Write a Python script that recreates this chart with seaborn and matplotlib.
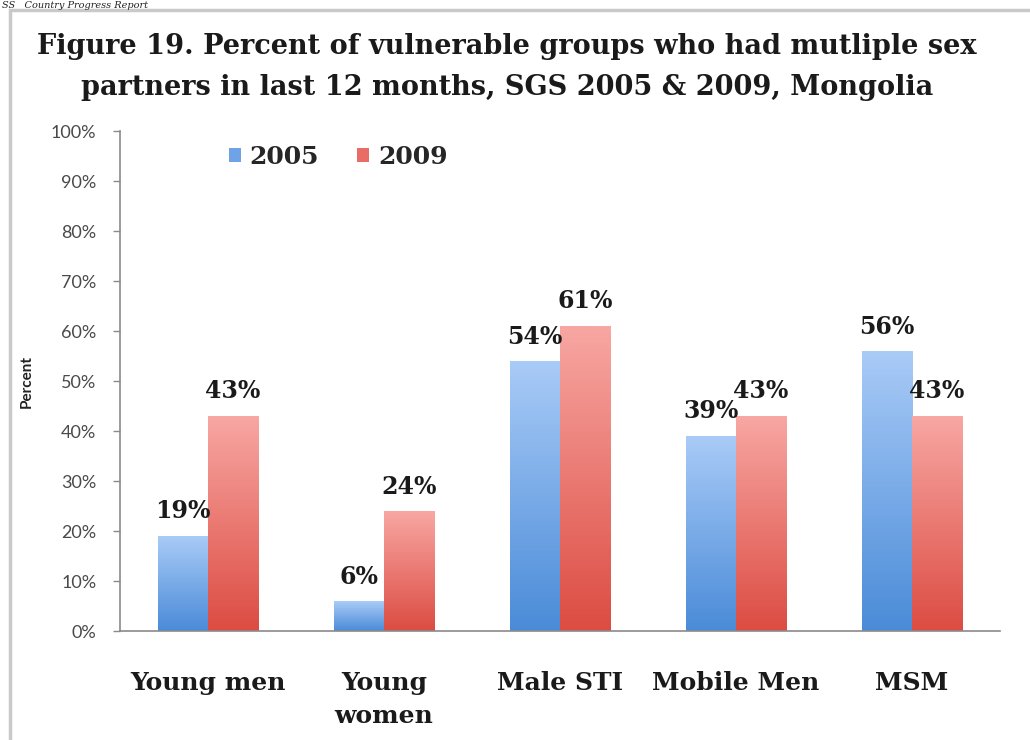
import numpy as np
import pandas as pd
import matplotlib
matplotlib.use("Agg")
import matplotlib.pyplot as plt
import seaborn as sns
from matplotlib.colors import LinearSegmentedColormap
from matplotlib.patches import Patch, Rectangle

categories = ["Young men", "Young\nwomen", "Male STI", "Mobile Men", "MSM"]
years = ["2005", "2009"]
values_2005 = [19, 6, 54, 39, 56]
values_2009 = [43, 24, 61, 43, 43]
yticks = [0, 10, 20, 30, 40, 50, 60, 70, 80, 90, 100]
ytick_labels = ["0%", "10%", "20%", "30%", "40%", "50%", "60%", "70%", "80%", "90%", "100%"]
title = "Figure 19. Percent of vulnerable groups who had mutliple sex\npartners in last 12 months, SGS 2005 & 2009, Mongolia"
header = "SS   Country Progress Report"

df = pd.DataFrame({
    "category": categories * 2,
    "year": [years[0]] * len(categories) + [years[1]] * len(categories),
    "value": values_2005 + values_2009,
})

sns.set_theme(style="white")
plt.rcParams["font.family"] = ["DejaVu Sans"]

SERIF = "DejaVu Serif"
SANS = "Lato"

fig = plt.figure(figsize=(10.3, 7.4), dpi=100)
fig.patch.set_facecolor("white")
ax = fig.add_axes([120 / 1030, 1 - 631 / 740, 880 / 1030, 500 / 740])

palette = {"2005": "#6fa3e6", "2009": "#ea6c66"}
sns.barplot(data=df, x="category", y="value", hue="year", order=categories,
            hue_order=years, palette=palette, width=0.57, saturation=1,
            ax=ax, legend=False, errorbar=None)

grads = {
    0: LinearSegmentedColormap.from_list("b", ["#4a8bd8", "#a9cbf7"]),
    1: LinearSegmentedColormap.from_list("r", ["#dc4c42", "#f8a7a3"]),
}
grad = np.linspace(0, 1, 256).reshape(-1, 1)
for i, cont in enumerate(ax.containers):
    for rect in cont.patches:
        x0, y0 = rect.get_x(), rect.get_y()
        w, h = rect.get_width(), rect.get_height()
        im = ax.imshow(grad, cmap=grads[i], origin="lower", aspect="auto",
                       extent=[x0, x0 + w, y0, y0 + h], zorder=rect.get_zorder())
        im.set_clip_path(rect)
        rect.set_facecolor("none")
        rect.set_edgecolor("none")
    ax.bar_label(cont, labels=[f"{int(v)}%" for v in cont.datavalues], padding=9,
                 fontsize=17, fontweight="bold", family=SERIF, color="#1a1a1a")

ax.set_xlim(-0.5, len(categories) - 0.5)
ax.set_ylim(0, 100)
ax.set_yticks(yticks)
ax.set_yticklabels(ytick_labels, family=SANS, fontsize=13, color="#4a4a4a")
ax.set_xticks(range(len(categories)))
ax.set_xticklabels(categories, family=SERIF, fontsize=18, fontweight="bold",
                   color="#1a1a1a", linespacing=1.45, va="top")
ax.set_xticks(np.arange(-0.5, len(categories), 1.0), minor=True)
ax.tick_params(axis="x", which="major", length=0, pad=29)
ax.tick_params(axis="x", which="minor", length=5, width=1, color="#8a8a8a", direction="out")
ax.tick_params(axis="y", which="major", length=5, width=1, color="#8a8a8a", direction="out", left=True, pad=12)
ax.set_xlabel("")
ax.set_ylabel("Percent", family=SANS, fontsize=11, fontweight="bold", labelpad=12, color="#222222")
for s in ["top", "right"]:
    ax.spines[s].set_visible(False)
for s in ["left", "bottom"]:
    ax.spines[s].set_color("#8a8a8a")
    ax.spines[s].set_linewidth(1.2)
ax.grid(False)

handles = [Patch(facecolor=palette[y], edgecolor="none") for y in years]
leg = ax.legend(handles, years, loc="upper left", bbox_to_anchor=(206 / 1030, 1 - 122 / 740),
                bbox_transform=fig.transFigure, frameon=False, ncol=2,
                prop={"family": SERIF, "weight": "bold", "size": 18},
                handlelength=0.5, handleheight=0.5, handletextpad=0.35, columnspacing=1.5)

fig.text(507 / 1030, 1 - 67 / 740, title, ha="center", va="center", family=SERIF,
         fontweight="bold", fontsize=19.5, linespacing=1.65, color="#1a1a1a")

fig.text(2 / 1030, 1 - 1 / 740, header, ha="left", va="top",
         family=SERIF, style="italic", fontsize=7, color="#222222")

frame = Rectangle((10 / 1030, -0.05), 1.1, 1 - 9.5 / 740 + 0.05, transform=fig.transFigure,
                  fill=False, edgecolor="#c9c9c9", linewidth=2.5, clip_on=False)
fig.patches.append(frame)

fig.savefig("out.png", dpi=100, facecolor="white")
